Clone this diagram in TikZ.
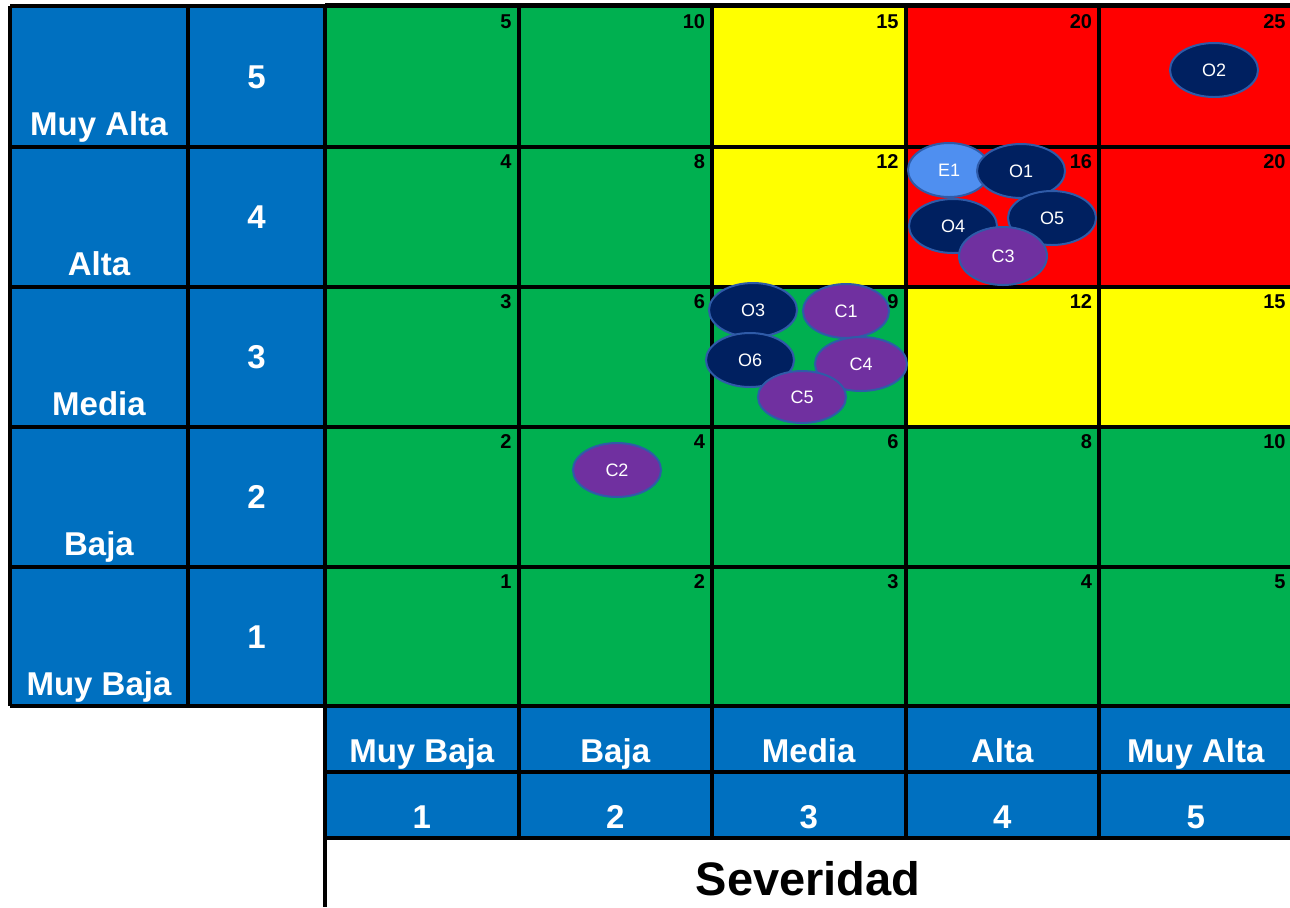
\documentclass[tikz,border=0pt]{standalone}
\usepackage{fontspec}
\setmainfont{Liberation Sans}
\usepackage{tikz}
\usetikzlibrary{shapes.geometric}

\definecolor{hdrblue}{HTML}{0070C0}
\definecolor{lowgreen}{HTML}{00B050}
\definecolor{midyellow}{HTML}{FFFF00}
\definecolor{highred}{HTML}{FF0000}
\definecolor{riskO}{HTML}{002060}
\definecolor{riskC}{HTML}{7030A0}
\definecolor{riskE}{HTML}{4F8FF0}
\definecolor{riskedge}{HTML}{2F5BA8}

\tikzset{
  lbl/.style={text=white,inner sep=0pt,font=\fontsize{16.5}{18}\selectfont\bfseries},
  cellnum/.style={anchor=north east,inner sep=0pt,font=\fontsize{10}{12}\selectfont\bfseries},
  risk/.style={ellipse,draw=riskedge,line width=1pt,minimum width=44pt,minimum height=27pt,
    inner sep=0pt,text=white,font=\fontsize{9}{10}\selectfont}
}

\begin{document}
\begin{tikzpicture}[x=0.5pt,y=-0.5pt,line width=2pt]
    \useasboundingbox (0,0) rectangle (1290,907);
    % backgrounds
    \fill[hdrblue] (10,6) rectangle (325,706);
    \fill[hdrblue] (325,706) rectangle (1290,838);
    \fill[lowgreen] (325,6) rectangle (1290,706);
    \fill[midyellow] (712,6) rectangle (905.5,287);
    \fill[highred] (905.5,6) rectangle (1290,287);
    \fill[midyellow] (905.5,287) rectangle (1290,427);
    % grid
    \foreach\y in {147,287,427,567,706}{
      \draw (10,\y) -- (1290,\y);
    }
    \draw[line width=2.5pt] (325,5.5) -- (1290,5.5);
    \draw (10,6) -- (325,6);
    \draw (10,6) -- (10,706);
    \draw (188,6) -- (188,706);
    \draw (325,6) -- (325,907);
    \foreach\x in {518.5,712,905.5,1099}{
      \draw (\x,6) -- (\x,838);
    }
    \draw (325,772) -- (1290,772);
    \draw (325,838) -- (1290,838);
    % cell values
    \foreach\r in {1,...,5}{
      \foreach\c in {1,...,5}{
        \pgfmathtruncatemacro\v{\r*\c}
        \node[cellnum] (cell\r\c) at ({325+193.5*\c-5},{7+140*(5-\r)+6}) {\v};
      }
    }
    % probability axis
    \foreach\r/\name in {5/Muy Alta,4/Alta,3/Media,2/Baja,1/Muy Baja}{
      \node[lbl,anchor=base] (prob\r) at ({99},{6+140*(6-\r)-11}) {\name};
      \node[lbl] (probnum\r) at ({256.5},{7+140*(5-\r)+70}) {\r};
    }
    % severity axis
    \foreach\c/\name in {1/Muy Baja,2/Baja,3/Media,4/Alta,5/Muy Alta}{
      \node[lbl,anchor=base] (sev\c) at ({325+193.5*\c-96.75},762) {\name};
      \node[lbl,anchor=base] (sevnum\c) at ({325+193.5*\c-96.75},828) {\c};
    }
    \node[inner sep=0pt,anchor=base,font=\fontsize{23.5}{26}\selectfont\bfseries] (sevtitle) at (808,895) {Severidad};
    % risks
    \node[risk,fill=riskO] (O2) at (1214,70) {O2};
    \node[risk,fill=riskE,minimum width=41pt] (E1) at (949,170) {E1};
    \node[risk,fill=riskO] (O1) at (1021,171) {O1};
    \node[risk,fill=riskO] (O4) at (953,226) {O4};
    \node[risk,fill=riskO] (O5) at (1052,218) {O5};
    \node[risk,fill=riskC,minimum height=29pt] (C3) at (1003,256) {C3};
    \node[risk,fill=riskO] (O3) at (753,310) {O3};
    \node[risk,fill=riskO] (O6) at (750,360) {O6};
    \node[risk,fill=riskC,minimum width=43pt] (C1) at (846,311) {C1};
    \node[risk,fill=riskC,minimum width=46pt] (C4) at (861,364) {C4};
    \node[risk,fill=riskC,minimum height=26pt] (C5) at (802,397) {C5};
    \node[risk,fill=riskC] (C2) at (617,470) {C2};
\end{tikzpicture}
\end{document}
